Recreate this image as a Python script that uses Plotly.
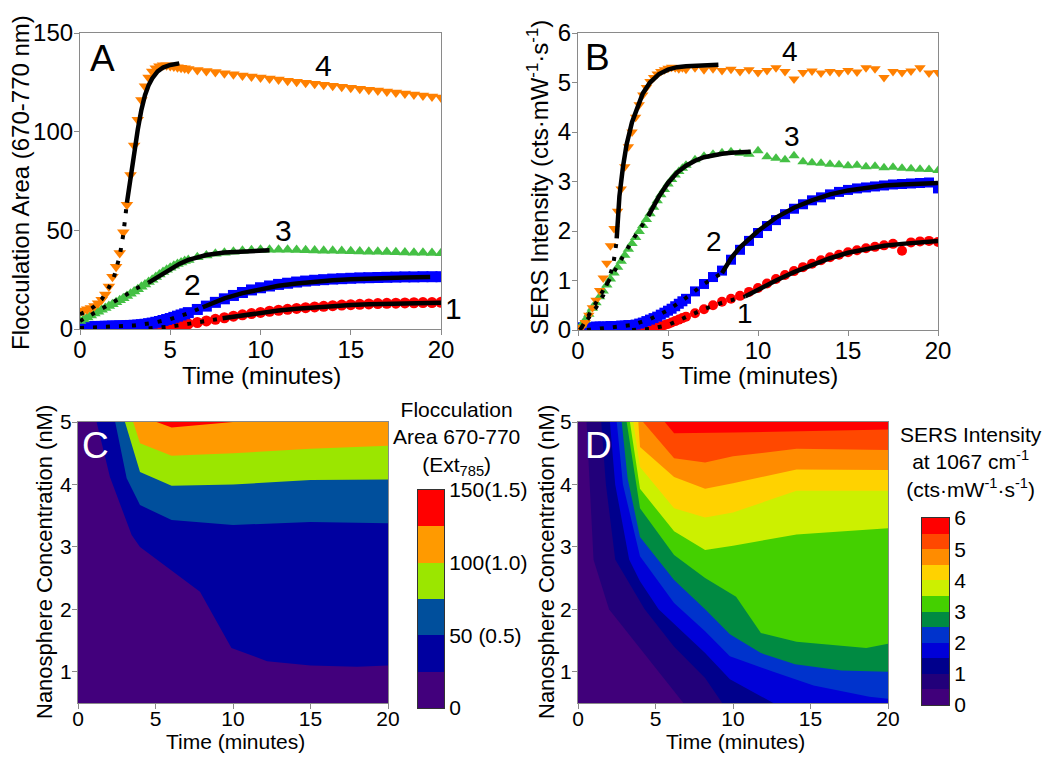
import plotly.graph_objects as go

FONT = "Liberation Sans, Arial, Helvetica, sans-serif"
W, H = 1050, 758
OFF = 8  # page margin of the html body

# ---------------- Panels A / B : kinetic traces ----------------
T = [round(0.2 * i, 1) for i in range(31)] + [6.5 + 0.5 * i for i in range(28)]

A1 = [0.0, 0.0, 0.0, 0.0, 0.0, 0.0, 0.0, 0.0, 0.0, 0.0, 0.0, 0.0, 0.0, 0.0, 0.0, 0.1,
      0.1, 0.2, 0.2, 0.3, 0.4, 0.5, 0.6, 0.8, 1.0, 1.2, 1.4, 1.7, 2.0, 2.3, 2.6,
      3.3, 4.1, 4.9, 5.7, 6.5, 7.2, 7.8, 8.4, 9.0, 9.5, 10.0, 10.4, 10.8, 11.2, 11.5,
      11.8, 12.1, 12.3, 12.5, 12.7, 12.9, 13.0, 13.1, 13.2, 13.3, 13.4, 13.4, 13.5]
A2 = [0.8, 0.9, 1.0, 1.1, 1.2, 1.3, 1.3, 1.4, 1.4, 1.5, 1.5, 1.6, 1.6, 1.7, 1.8, 1.9,
      2.0, 2.2, 2.4, 2.7, 3.0, 3.4, 3.8, 4.3, 4.8, 5.3, 5.9, 6.5, 7.1, 7.7, 8.3,
      9.9, 11.6, 13.5, 15.3, 17.0, 18.5, 19.8, 20.9, 21.8, 22.6, 23.2, 23.8, 24.3, 24.7, 25.0,
      25.3, 25.5, 25.7, 25.9, 26.0, 26.1, 26.2, 26.3, 26.4, 26.4, 26.5, 26.5, 26.5]
A3 = [4.0, 4.8, 5.8, 6.8, 7.8, 8.8, 9.8, 10.7, 11.6, 12.6, 13.6, 14.6, 15.6, 16.7, 17.8, 19.0,
      20.2, 21.4, 22.6, 23.8, 25.0, 26.3, 27.6, 28.9, 30.0, 31.0, 32.0, 32.9, 33.7, 34.4, 35.0,
      36.3, 37.3, 38.1, 38.7, 39.2, 39.6, 39.9, 40.1, 40.2, 40.2, 40.1, 40.0, 39.9, 39.8, 39.7,
      39.6, 39.5, 39.4, 39.3, 39.2, 39.1, 39.0, 38.9, 38.8, 38.7, 38.6, 38.5, 38.4]
A4 = [9.0, 9.4, 10.0, 10.7, 11.6, 13.0, 14.8, 17.5, 21.5, 26.5, 31.5, 38.5, 49.0, 63.0, 78.0, 93.0,
      106.0, 116.0, 123.0, 127.5, 130.5, 132.2, 133.2, 133.6, 133.6, 133.3, 133.0, 132.7, 132.4, 132.1, 131.8,
      131.3, 130.8, 130.2, 129.6, 129.1, 128.5, 128.0, 127.5, 126.9, 126.4, 125.8, 125.3, 124.8, 124.3, 123.8,
      123.3, 122.8, 122.3, 121.8, 121.3, 120.8, 120.3, 119.8, 119.3, 118.8, 118.3, 117.8, 117.3]

B1 = [0.02, 0.02, 0.02, 0.02, 0.02, 0.02, 0.02, 0.02, 0.02, 0.02, 0.02, 0.02, 0.02, 0.02, 0.02, 0.02,
      0.02, 0.02, 0.03, 0.03, 0.04, 0.05, 0.06, 0.08, 0.10, 0.12, 0.15, 0.18, 0.21, 0.24, 0.27,
      0.34, 0.42, 0.50, 0.57, 0.63, 0.69, 0.77, 0.85, 0.94, 1.03, 1.11, 1.19, 1.27, 1.34, 1.41,
      1.47, 1.52, 1.57, 1.61, 1.65, 1.68, 1.71, 1.74, 1.60, 1.77, 1.79, 1.80, 1.78]
B2 = [0.05, 0.05, 0.06, 0.06, 0.06, 0.07, 0.07, 0.07, 0.07, 0.08, 0.08, 0.08, 0.09, 0.09, 0.10, 0.10,
      0.11, 0.13, 0.15, 0.18, 0.21, 0.24, 0.27, 0.31, 0.35, 0.39, 0.43, 0.48, 0.53, 0.58, 0.63,
      0.78, 0.93, 1.07, 1.20, 1.42, 1.62, 1.80, 1.96, 2.10, 2.22, 2.34, 2.45, 2.54, 2.62, 2.68,
      2.74, 2.79, 2.83, 2.86, 2.88, 2.90, 2.92, 2.94, 2.95, 2.96, 2.97, 2.98, 2.86]
B3 = [0.02, 0.10, 0.20, 0.32, 0.44, 0.55, 0.67, 0.79, 0.91, 1.03, 1.15, 1.27, 1.39, 1.51, 1.63, 1.75,
      1.87, 1.99, 2.11, 2.23, 2.35, 2.48, 2.61, 2.73, 2.84, 2.95, 3.04, 3.13, 3.20, 3.27, 3.33,
      3.44, 3.51, 3.55, 3.58, 3.60, 3.57, 3.55, 3.62, 3.50, 3.47, 3.44, 3.52, 3.40, 3.38, 3.37,
      3.35, 3.34, 3.32, 3.33, 3.30, 3.31, 3.28, 3.29, 3.27, 3.26, 3.25, 3.24, 3.22]
B4 = [0.00, 0.05, 0.15, 0.30, 0.45, 0.60, 0.80, 1.05, 1.35, 1.70, 2.05, 2.40, 2.85, 3.30, 3.70, 4.00,
      4.30, 4.55, 4.75, 4.90, 5.02, 5.10, 5.17, 5.22, 5.26, 5.29, 5.31, 5.30, 5.28, 5.30, 5.27,
      5.30, 5.26, 5.28, 5.24, 5.27, 5.22, 5.26, 5.20, 5.24, 5.30, 5.22, 5.07, 5.20, 5.23, 5.19,
      5.22, 5.20, 5.24, 5.21, 5.30, 5.28, 5.10, 5.22, 5.20, 5.23, 5.30, 5.19, 5.20]

# fitted curves (dotted part, solid part)
FA1_DT = [3.8, 5.0, 6.0, 7.0, 7.9];               FA1_DV = [0.3, 1.2, 2.6, 4.0, 5.4]
FA1_ST = [7.9, 9, 10, 11, 12, 13, 14, 15, 16, 17, 18, 19, 20]
FA1_SV = [5.4, 7.0, 8.3, 9.4, 10.3, 11.0, 11.6, 12.1, 12.5, 12.8, 13.0, 13.2, 13.3]
FA2_DT = [0, 1, 2, 3, 4, 5, 6, 6.8];               FA2_DV = [0.5, 0.8, 1.2, 1.8, 3.0, 5.0, 8.0, 11.0]
FA2_ST = [6.8, 7.5, 8, 9, 10, 11, 12, 13, 14, 15, 16, 17, 18, 19.4]
FA2_SV = [11.0, 13.8, 15.5, 18.2, 20.3, 21.9, 23.1, 24.0, 24.7, 25.2, 25.6, 25.9, 26.1, 26.3]
FA3_DT = [0, 0.5, 1, 1.5, 2, 2.5, 3, 3.5, 3.8];    FA3_DV = [4, 6.5, 9, 11.5, 14.5, 17, 20, 22.5, 23.5]
FA3_ST = [3.8, 4.5, 5, 5.5, 6, 6.5, 7, 8, 9, 10, 10.5]
FA3_SV = [23.5, 27.5, 30.5, 33, 35, 36.5, 37.5, 38.8, 39.4, 39.8, 39.9]
FA4_DT = [0, 0.4, 0.8, 1.2, 1.6, 1.9, 2.2, 2.4, 2.6]; FA4_DV = [7.5, 9, 11.5, 15, 21, 27, 37, 48, 64]
FA4_ST = [2.6, 2.8, 3.0, 3.2, 3.4, 3.6, 3.8, 4.0, 4.3, 4.6, 5.0, 5.5]
FA4_SV = [64, 77, 89, 101, 111, 118.5, 123.5, 127, 130.5, 132.5, 133.8, 134.6]

FB1_DT = [3, 4, 5, 6, 7, 8, 9, 9.3];              FB1_DV = [0, 0.02, 0.1, 0.26, 0.42, 0.55, 0.65, 0.68]
FB1_ST = [9.3, 10, 11, 12, 13, 14, 15, 16, 17, 18, 19, 20]
FB1_SV = [0.68, 0.82, 1.0, 1.17, 1.32, 1.45, 1.56, 1.64, 1.7, 1.74, 1.77, 1.8]
FB2_DT = [0.5, 2, 3, 4, 5, 6, 7, 8];              FB2_DV = [0.0, 0.05, 0.1, 0.22, 0.4, 0.65, 0.93, 1.15]
FB2_ST = [8, 8.5, 9, 9.5, 10, 11, 12, 13, 14, 15, 16, 17, 18, 19, 20]
FB2_SV = [1.15, 1.45, 1.67, 1.85, 2.0, 2.27, 2.47, 2.62, 2.74, 2.82, 2.88, 2.92, 2.94, 2.96, 2.97]
FB3_DT = [0.2, 1, 2, 3, 3.9];                     FB3_DV = [0.05, 0.55, 1.2, 1.8, 2.3]
FB3_ST = [3.9, 4.5, 5, 5.5, 6, 6.5, 7, 7.5, 8, 8.5, 9, 9.6]
FB3_SV = [2.3, 2.7, 2.97, 3.18, 3.32, 3.42, 3.49, 3.53, 3.56, 3.58, 3.59, 3.6]
FB4_DT = [0.1, 0.5, 1.0, 1.4, 1.7, 1.95, 2.15];   FB4_DV = [0.0, 0.2, 0.45, 0.7, 1.0, 1.3, 1.8]
FB4_ST = [2.15, 2.3, 2.5, 2.7, 3.0, 3.3, 3.6, 4.0, 4.5, 5.0, 5.5, 6.0, 7.0, 7.8]
FB4_SV = [1.85, 2.7, 3.3, 3.75, 4.2, 4.52, 4.78, 5.0, 5.17, 5.26, 5.31, 5.33, 5.35, 5.36]

SERIES_COLORS = ["#ff0000", "#0000ff", "#45c045", "#ff8000"]
SERIES_SYMBOLS = ["circle", "square", "triangle-up", "triangle-down"]
SERIES_LABELS = ["1", "2", "3", "4"]

# ---------------- Panels C / D : contour maps (level-crossing boundaries) ----------------
C_LEVELS = [0, 25, 50, 75, 100, 125, 150]
C_COLORS = ["#42007c", "#0000a0", "#004f9c", "#9be600", "#ff9a00", "#ff0000"]
C_BOUNDS = [
    ([1.2, 2.06, 3.46, 4.0, 7.87, 9.9, 12.2, 15.0, 18.0, 20.0],
     [5.0, 4.12, 3.19, 3.0, 2.28, 1.38, 1.17, 1.10, 1.08, 1.10]),      # 25
    ([2.4, 3.14, 4.0, 6.04, 10.0, 15.0, 20.0],
     [5.0, 4.10, 3.67, 3.43, 3.35, 3.40, 3.38]),                      # 50
    ([3.03, 4.0, 6.04, 10.0, 15.0, 20.0],
     [5.0, 4.20, 3.98, 4.00, 4.07, 4.08]),                            # 75
    ([3.56, 4.0, 6.04, 10.0, 15.0, 20.0],
     [5.0, 4.66, 4.46, 4.50, 4.57, 4.62]),                            # 100
    ([5.07, 6.04, 10.0],
     [5.0, 4.91, 5.0]),                                               # 125
]

D_LEVELS = [0, 0.5, 1, 1.5, 2, 2.5, 3, 3.5, 4, 4.5, 5, 5.5, 6]
D_COLORS = ["#40007a", "#22007a", "#00008c", "#0000d8", "#0033cc", "#008a42",
            "#44d000", "#ccf000", "#ffd200", "#ff8c00", "#ff4800", "#ff0000"]
D_BOUNDS = [
    ([0.55, 0.75, 1.0, 2.0, 6.8], [5.0, 4.0, 2.8, 2.0, 0.5]),                               # 0.5
    ([1.5, 1.8, 2.4, 4.3, 6.2, 8.2, 9.3], [5.0, 4.0, 2.8, 2.0, 1.4, 0.9, 0.5]),             # 1.0
    ([2.06, 2.4, 3.3, 4.0, 5.2, 8.2, 9.8, 12.6], [5.0, 4.0, 2.8, 2.45, 2.0, 1.3, 0.88, 0.5]),  # 1.5
    ([2.5, 2.9, 4.0, 6.2, 8.2, 9.8, 12.6, 15.2, 18.8, 20.0],
     [5.0, 4.0, 2.85, 2.1, 1.65, 1.25, 1.0, 0.78, 0.6, 0.57]),                              # 2.0
    ([2.82, 3.2, 4.0, 6.2, 8.2, 9.8, 11.8, 14.0, 17.0, 20.0],
     [5.0, 4.1, 3.16, 2.47, 2.0, 1.6, 1.3, 1.12, 1.02, 1.0]),                               # 2.5
    ([3.14, 4.0, 6.2, 8.2, 10.2, 11.8, 14.1, 18.6, 20.0],
     [5.0, 3.62, 2.87, 2.5, 2.2, 1.62, 1.48, 1.38, 1.45]),                                  # 3.0
    ([3.35, 4.0, 6.2, 8.2, 10.0, 14.1, 20.0], [5.0, 3.93, 3.25, 2.95, 3.02, 3.2, 3.3]),     # 3.5
    ([3.57, 4.0, 6.2, 8.2, 10.0, 14.1, 20.0], [5.0, 4.28, 3.62, 3.47, 3.55, 3.9, 3.9]),     # 4.0
    ([3.89, 4.0, 6.2, 8.2, 10.0, 14.1, 20.0], [5.0, 4.6, 4.12, 3.93, 4.02, 4.24, 4.23]),    # 4.5
    ([4.2, 6.2, 8.2, 10.0, 14.1, 20.0], [5.0, 4.42, 4.35, 4.45, 4.57, 4.55]),               # 5.0
    ([5.6, 6.2, 10.0, 14.0, 18.0, 20.0], [5.0, 4.82, 4.83, 4.85, 4.87, 4.88]),              # 5.5
]

T_MIN, T_MAX = 0, 20
CONC_MIN, CONC_MAX = 0.5, 5

fig = go.Figure()


def dx(x0, x1):
    return [(x0 - OFF) / W, (x1 - OFF) / W]


def dy(y0, y1):
    return [1 - (y1 - OFF) / H, 1 - (y0 - OFF) / H]


def region(ts, cs):
    xs, ys = list(ts), list(cs)
    if ys[-1] <= CONC_MIN and xs[-1] < T_MAX:
        xs.append(T_MAX); ys.append(CONC_MIN)
    if xs[-1] >= T_MAX and ys[-1] < CONC_MAX:
        xs.append(T_MAX); ys.append(CONC_MAX)
    return xs, ys


# ---- A and B scatter
for (xa, ya, data, fits, msize) in [
    ("x", "y", [A1, A2, A3, A4],
     [(FA1_DT, FA1_DV, FA1_ST, FA1_SV), (FA2_DT, FA2_DV, FA2_ST, FA2_SV),
      (FA3_DT, FA3_DV, FA3_ST, FA3_SV), (FA4_DT, FA4_DV, FA4_ST, FA4_SV)], 11),
    ("x2", "y2", [B1, B2, B3, B4],
     [(FB1_DT, FB1_DV, FB1_ST, FB1_SV), (FB2_DT, FB2_DV, FB2_ST, FB2_SV),
      (FB3_DT, FB3_DV, FB3_ST, FB3_SV), (FB4_DT, FB4_DV, FB4_ST, FB4_SV)], 10)]:
    for vals, col, sym in zip(data, SERIES_COLORS, SERIES_SYMBOLS):
        fig.add_trace(go.Scatter(x=T, y=vals, mode="markers", xaxis=xa, yaxis=ya,
                                 marker=dict(symbol=sym, size=msize, color=col, line=dict(width=0)),
                                 hoverinfo="skip", showlegend=False))
    for dt, dv, st, sv in fits:
        fig.add_trace(go.Scatter(x=dt, y=dv, mode="lines", xaxis=xa, yaxis=ya,
                                 line=dict(color="black", width=4, dash="4px,9px"),
                                 hoverinfo="skip", showlegend=False))
        fig.add_trace(go.Scatter(x=st, y=sv, mode="lines", xaxis=xa, yaxis=ya,
                                 line=dict(color="black", width=4.5),
                                 hoverinfo="skip", showlegend=False))

# ---- C and D filled contour bands
for (xa, ya, bounds, colors) in [("x3", "y3", C_BOUNDS, C_COLORS), ("x4", "y4", D_BOUNDS, D_COLORS)]:
    fig.add_trace(go.Scatter(x=[T_MIN, T_MAX, T_MAX, T_MIN], y=[CONC_MIN, CONC_MIN, CONC_MAX, CONC_MAX],
                             fill="toself", fillcolor=colors[0], mode="lines", line=dict(width=0),
                             xaxis=xa, yaxis=ya, hoverinfo="skip", showlegend=False))
    for (ts, cs), col in zip(bounds, colors[1:]):
        xs, ys = region(ts, cs)
        fig.add_trace(go.Scatter(x=xs, y=ys, fill="toself", fillcolor=col, mode="lines",
                                 line=dict(width=0), xaxis=xa, yaxis=ya,
                                 hoverinfo="skip", showlegend=False))

# ---- colour bars (as heatmap cells)
for (xa, ya, levels, colors) in [("x5", "y5", C_LEVELS, C_COLORS), ("x6", "y6", D_LEVELS, D_COLORS)]:
    n = len(colors)
    mids = [(levels[i] + levels[i + 1]) / 2 for i in range(n)]
    fig.add_trace(go.Heatmap(z=[[i] for i in range(n)], x=[0], y=mids, xaxis=xa, yaxis=ya,
                             colorscale=[[i / (n - 1), c] for i, c in enumerate(colors)],
                             zmin=0, zmax=n - 1, showscale=False, hoverinfo="skip"))

FRAME = "#8a8a8a"
base = dict(showline=True, linecolor=FRAME, linewidth=1.2, mirror=True, ticks="outside",
            ticklen=5, tickcolor=FRAME, showgrid=False, zeroline=False, automargin=False)
bx = dict(base, ticklabelstandoff=-6)
bx2 = dict(base, ticklabelstandoff=-8)
by = dict(base, ticklabelstandoff=-4)
cbx = dict(range=[-0.5, 0.5], showticklabels=False, ticks="", showline=True, mirror=True,
           linecolor="#333", linewidth=1, showgrid=False, zeroline=False, automargin=False)
cby = dict(side="right", ticks="", showline=True, mirror=True, linecolor="#333", linewidth=1,
           showgrid=False, zeroline=False, automargin=False)
fnt_ab = dict(family=FONT, size=24, color="black")
fnt_cd = dict(family=FONT, size=21, color="black")

fig.update_layout(
    template="none",
    width=W, height=H, margin=dict(l=0, r=0, t=0, b=0, pad=0),
    paper_bgcolor="white", plot_bgcolor="white", font=dict(family=FONT, color="black"),
    showlegend=False,
    xaxis=dict(bx, domain=dx(80, 441), anchor="y", range=[0, 20], tickvals=[0, 5, 10, 15, 20], tickfont=fnt_ab),
    yaxis=dict(by, domain=dy(33, 329), anchor="x", range=[0, 150], tickvals=[0, 50, 100, 150], tickfont=fnt_ab),
    xaxis2=dict(bx, domain=dx(578, 938), anchor="y2", range=[0, 20], tickvals=[0, 5, 10, 15, 20], tickfont=fnt_ab),
    yaxis2=dict(by, domain=dy(33, 330), anchor="x2", range=[0, 6], tickvals=[0, 1, 2, 3, 4, 5, 6], tickfont=fnt_ab),
    xaxis3=dict(bx2, domain=dx(78, 388), anchor="y3", range=[0, 20], tickvals=[0, 5, 10, 15, 20], tickfont=fnt_cd),
    yaxis3=dict(by, domain=dy(422, 703), anchor="x3", range=[0.5, 5], tickvals=[1, 2, 3, 4, 5], tickfont=fnt_cd),
    xaxis4=dict(bx2, domain=dx(578, 888), anchor="y4", range=[0, 20], tickvals=[0, 5, 10, 15, 20], tickfont=fnt_cd),
    yaxis4=dict(by, domain=dy(422, 703), anchor="x4", range=[0.5, 5], tickvals=[1, 2, 3, 4, 5], tickfont=fnt_cd),
    xaxis5=dict(cbx, domain=dx(418, 444), anchor="y5"),
    yaxis5=dict(cby, domain=dy(490, 708), anchor="x5", range=[0, 150],
                tickvals=[0, 50, 100, 150], ticktext=["0", "50 (0.5)", "100(1.0)", "150(1.5)"],
                tickfont=fnt_cd),
    xaxis6=dict(cbx, domain=dx(922, 949), anchor="y6"),
    yaxis6=dict(cby, domain=dy(518, 705), anchor="x6", range=[0, 6],
                tickvals=[0, 1, 2, 3, 4, 5, 6], tickfont=fnt_cd),
)

ann = []


def pxa(text, x, y, size, angle=0, color="black"):
    ann.append(dict(text=text, x=(x - OFF) / W, y=1 - (y - OFF) / H, xref="paper", yref="paper",
                    showarrow=False, textangle=angle, xanchor="center", yanchor="middle",
                    font=dict(family=FONT, size=size, color=color)))


def da(text, xa, ya, x, y, size, color="black"):
    ann.append(dict(text=text, x=x, y=y, xref=xa, yref=ya, showarrow=False,
                    xanchor="center", yanchor="middle", font=dict(family=FONT, size=size, color=color)))


# axis titles
pxa("Flocculation Area (670-770 nm)", 21, 183, 24, -90)
pxa("Time (minutes)", 261, 375, 24)
pxa("SERS Intensity (cts·mW<sup>-1</sup>·s<sup>-1</sup>)", 538, 178, 24, -90)
pxa("Time (minutes)", 758, 375, 24)
pxa("Nanosphere Concentration (nM)", 44, 562, 22, -90)
pxa("Time (minutes)", 235, 741, 21)
pxa("Nanosphere Concentration (nM)", 546, 562, 22, -90)
pxa("Time (minutes)", 735, 741, 21)
# colour bar titles
pxa("Flocculation<br>Area 670-770<br>(Ext<sub>785</sub>)", 456, 438, 21)
pxa("SERS Intensity<br>at 1067 cm<sup>-1</sup><br>(cts·mW<sup>-1</sup>·s<sup>-1</sup>)", 971, 462, 21)

# panel letters and curve numbers
da("A", "x", "y", 1.22, 137, 37)
da("B", "x2", "y2", 1.1, 5.5, 37)
da("C", "x3", "y3", 1.16, 4.62, 37, "white")
da("D", "x4", "y4", 1.29, 4.62, 37, "white")
for lab, (tx, vy) in zip(SERIES_LABELS[1:], [(6.26, 22.3), (11.25, 49.7), (13.5, 133.3)]):
    da(lab, "x", "y", tx, vy, 30)
pxa(SERIES_LABELS[0], 453, 308, 30)   # label "1" sits just outside panel A's right edge
for lab, (tx, vy) in zip(SERIES_LABELS, [(9.28, 0.34), (7.56, 1.78), (11.9, 3.9), (11.8, 5.62)]):
    da(lab, "x2", "y2", tx, vy, 28)

fig.update_layout(annotations=ann)
fig.write_html("out.html")
